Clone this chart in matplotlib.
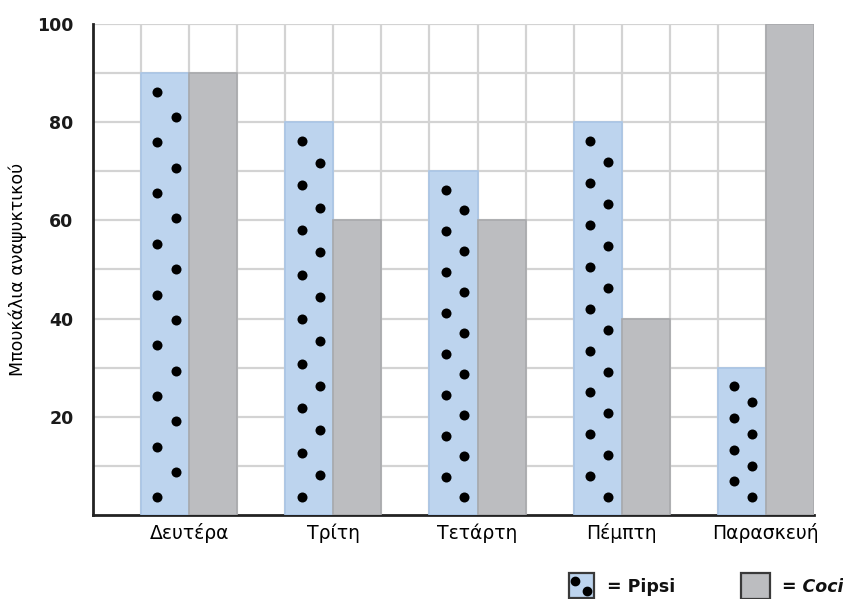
import numpy as np
import matplotlib
matplotlib.use("Agg")
import matplotlib.pyplot as plt
from matplotlib.patches import Rectangle

plt.rcParams['font.family'] = ['DejaVu Sans']

days = ['Δευτέρα', 'Τρίτη', 'Τετάρτη', 'Πέμπτη', 'Παρασκευή']
pipsi = [90, 80, 70, 80, 30]
coci = [90, 60, 60, 40, 100]
# how many dots go in each Pipsi bar
dot_counts = [17, 17, 16, 18, 8]

blue = '#bdd4ee'
blue_edge = '#a9c5e6'
grey = '#bcbdc0'
grey_edge = '#a8a9ac'
grid_col = '#d3d3d3'

fig = plt.figure(figsize=(8.43, 5.99), dpi=100)
ax = fig.add_axes([0.1103, 0.1402, 0.8553, 0.8198])

# each day takes three grid columns: pipsi, coci, gap
pos = np.arange(len(days)) * 3
ax.bar(pos + 1, pipsi, width=1, align='edge', color=blue, edgecolor=blue_edge, lw=1.2, zorder=3)
ax.bar(pos + 2, coci, width=1, align='edge', color=grey, edgecolor=grey_edge, lw=1.2, zorder=3)

# dotted fill of the pipsi bars, zig-zag pattern
for p, h, n in zip(pos, pipsi, dot_counts):
    ys = np.linspace(h - 3.8, 3.6, n)
    xs = np.where(np.arange(n) % 2 == 0, p + 1.34, p + 1.72)
    ax.scatter(xs, ys, s=52, color='black', marker='o', zorder=4, linewidths=0)

# square grid, stops at the last column
ncols = 14
ax.hlines(np.arange(10, 101, 10), 0, ncols, color=grid_col, lw=1.6, zorder=1)
ax.vlines(np.arange(1, ncols + 1), 0, 100, color=grid_col, lw=1.6, zorder=1)

ax.set_xlim(0, 15)
ax.set_ylim(0, 100)
ax.set_xticks(pos + 2)
ax.set_xticklabels(days, fontsize=13.5)
ax.set_yticks([20, 40, 60, 80, 100])
ax.set_yticklabels(['20', '40', '60', '80', '100'], fontsize=12.5, fontweight='bold',
                   color='#1a1a1a')
ax.tick_params(length=0, pad=6)
ax.tick_params(axis='y', pad=14)
ax.set_ylabel('Μπουκάλια αναψυκτικού', fontsize=12.5, labelpad=7)

for s in ['top', 'right']:
    ax.spines[s].set_visible(False)
for s in ['left', 'bottom']:
    ax.spines[s].set_linewidth(2)
    ax.spines[s].set_color('#222222')

# legend squares drawn in figure pixels
W, H = 843, 599

def fig_rect(x0, y0, x1, y1, color):
    r = Rectangle((x0 / W, 1 - y1 / H), (x1 - x0) / W, (y1 - y0) / H,
                  transform=fig.transFigure, facecolor=color,
                  edgecolor='#3a3a3a', lw=1.6)
    fig.add_artist(r)

fig_rect(569, 573, 594, 598, blue)
for dx, dy in [(575, 581), (587, 591)]:
    fig.add_artist(plt.Line2D([dx / W], [1 - dy / H], marker='o', ms=6,
                              color='black', transform=fig.transFigure))
fig.text(607 / W, 1 - 587 / H, '= Pipsi', fontsize=12.5, fontweight='bold',
         va='center', ha='left', color='#111111')

fig_rect(741, 573, 770, 599, grey)
fig.text(782 / W, 1 - 587 / H, '= Coci', fontsize=12.5, fontweight='bold',
         style='italic', va='center', ha='left', color='#111111')

fig.savefig('out.png', dpi=100)
